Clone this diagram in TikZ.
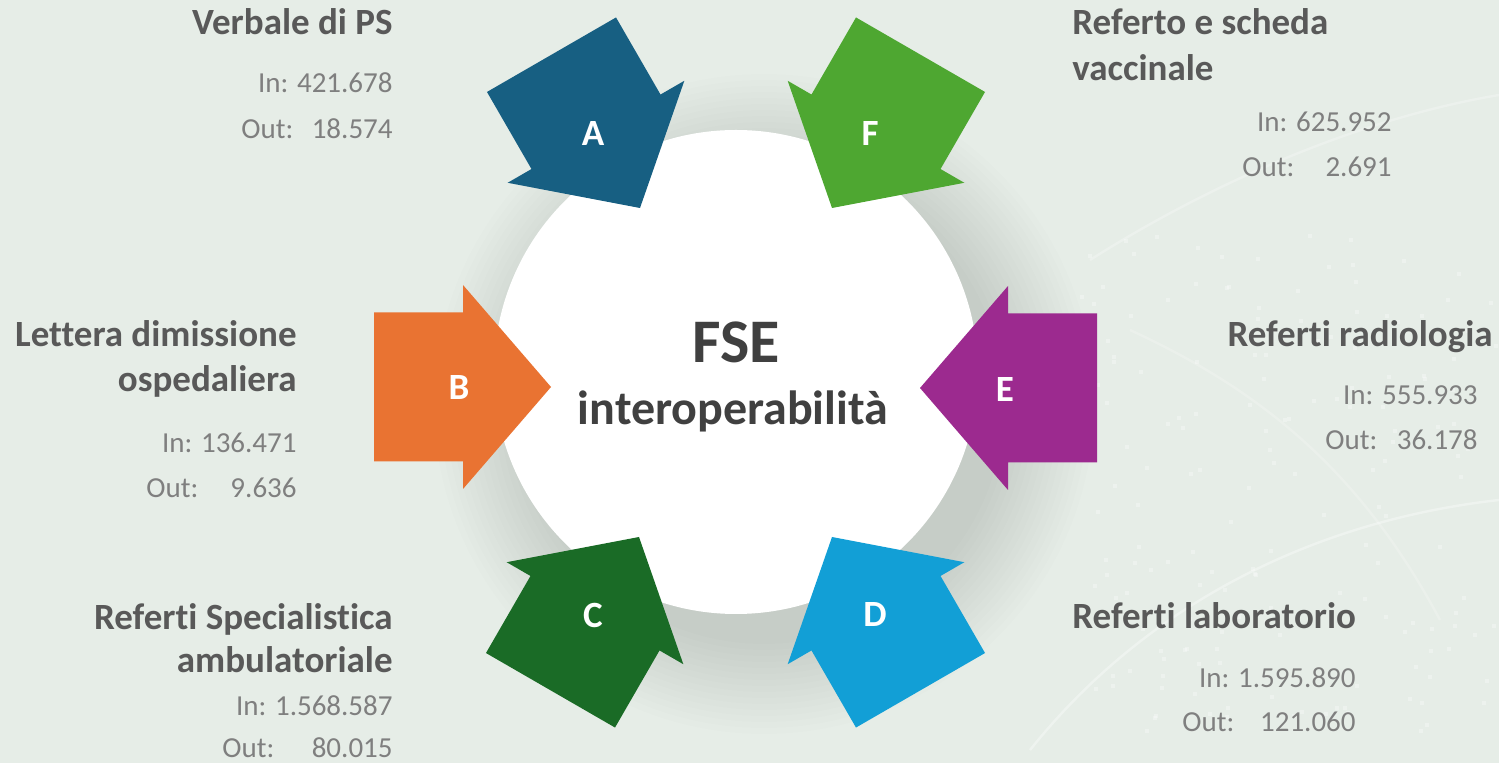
\documentclass[tikz,border=0pt]{standalone}
\usepackage{fontspec}
\setmainfont{Carlito}[Ligatures={NoCommon}]
\definecolor{bg}{HTML}{E6EDE7}
\definecolor{titlec}{HTML}{595959}
\definecolor{numc}{HTML}{7F7F7F}
\definecolor{hubtext}{HTML}{404040}
\definecolor{colA}{HTML}{175F82}
\definecolor{colB}{HTML}{E97332}
\definecolor{colC}{HTML}{1A6B26}
\definecolor{colD}{HTML}{129FD6}
\definecolor{colE}{HTML}{9C2A8F}
\definecolor{colF}{HTML}{4EA731}
\tikzset{
  bigarrow/.pic={\fill[pic actions] (0,0) -- (-88,102) -- (-88,74.5) -- (-177,74.5) -- (-177,-74.5) -- (-88,-74.5) -- (-88,-102) -- cycle;},
  letter/.style={font=\fontsize{18.5pt}{20pt}\selectfont\bfseries, text=white, inner sep=0, anchor=base},
  title/.style={font=\fontsize{18.5pt}{22.5pt}\selectfont\bfseries, text=titlec, inner sep=0},
  num/.style={font=\fontsize{14.5pt}{17pt}\selectfont, text=numc, inner sep=0},
  deco/.style={white, opacity=0.35, line width=1.2pt}
}
\begin{document}
\begin{tikzpicture}[x=0.5pt, y=-0.5pt]
\useasboundingbox (0,0) rectangle (1499,763);
\fill[bg] (0,0) rectangle (1499,763);
% faint background decoration
\draw[deco] (1030,750) .. controls (1150,600) and (1320,520) .. (1499,500);
\draw[deco, opacity=0.25] (1090,260) .. controls (1200,190) and (1350,120) .. (1499,95);
\draw[deco, opacity=0.2] (1130,330) .. controls (1260,390) and (1360,470) .. (1440,620);
\pgfmathsetseed{7}
\foreach \i in {1,...,170}{
  \pgfmathsetmacro{\dx}{1080+rnd*419}
  \pgfmathsetmacro{\dy}{230+rnd*500}
  \fill[white, opacity=0.3] (\dx,\dy) rectangle ++(4,4);
}
% soft shadow of the hub
\foreach \r in {240,246,...,330}{
  \fill[black, opacity=0.008] (764,404) circle (\r*0.5pt);
}
\node[circle, fill=white, minimum size=242pt, inner sep=0] (hub) at (736,372) {};
\node[font=\fontsize{31pt}{34pt}\selectfont\bfseries, text=hubtext, inner sep=0, anchor=base] (fse) at (736,363) {FSE};
\node[font=\fontsize{24pt}{28pt}\selectfont\bfseries, text=hubtext, inner sep=0, anchor=base] (interop) at (733,425) {interoperabilità};
% arrows
\pic[fill=colA] at (640,208) [rotate=-60] {bigarrow};
\pic[fill=colB] at (551,387) {bigarrow};
\pic[fill=colC] at (639,537) [rotate=60] {bigarrow};
\pic[fill=colD] at (832,537) [rotate=120] {bigarrow};
\pic[fill=colE] at (920,388) [rotate=180] {bigarrow};
\pic[fill=colF] at (832,208) [rotate=-120] {bigarrow};
\node[letter] (la) at (593,146) {A};
\node[letter] (lb) at (459,400) {B};
\node[letter] (lc) at (593,628) {C};
\node[letter] (ld) at (875,627) {D};
\node[letter] (le) at (1005,402) {E};
\node[letter] (lf) at (870,146) {F};
% A: Verbale di PS
\node[title, anchor=base east] (ta) at (393,35) {Verbale di PS};
\node[num, anchor=base east] (ina) at (393,93) {In: 421.678};
\node[num, anchor=base west] (outa) at (241,139) {Out:};
\node[num, anchor=base east] (nouta) at (393,139) {18.574};
% B
\node[title, anchor=base east] (tb1) at (297,347) {Lettera dimissione};
\node[title, anchor=base east] (tb2) at (297,392) {ospedaliera};
\node[num, anchor=base east] (inb) at (297,453) {In: 136.471};
\node[num, anchor=base west] (outb) at (146,498) {Out:};
\node[num, anchor=base east] (noutb) at (297,498) {9.636};
% C
\node[title, anchor=base east] (tc1) at (393,630) {Referti Specialistica};
\node[title, anchor=base east] (tc2) at (393,673) {ambulatoriale};
\node[num, anchor=base east] (inc) at (393,716) {In: 1.568.587};
\node[num, anchor=base west] (outc) at (222,758) {Out:};
\node[num, anchor=base east] (noutc) at (393,758) {80.015};
% F
\node[title, anchor=base west] (tf1) at (1072,35) {Referto e scheda};
\node[title, anchor=base west] (tf2) at (1072,81) {vaccinale};
\node[num, anchor=base east] (inf) at (1392,132) {In: 625.952};
\node[num, anchor=base west] (outf) at (1242,177) {Out:};
\node[num, anchor=base east] (noutf) at (1392,177) {2.691};
% E
\node[title, anchor=base east] (te) at (1493,347) {Referti radiologia};
\node[num, anchor=base east] (ine) at (1478,405) {In: 555.933};
\node[num, anchor=base west] (oute) at (1325,450) {Out:};
\node[num, anchor=base east] (noute) at (1478,450) {36.178};
% D
\node[title, anchor=base west] (td) at (1072,629) {Referti laboratorio};
\node[num, anchor=base east] (ind) at (1356,688) {In: 1.595.890};
\node[num, anchor=base west] (outd) at (1182,732) {Out:};
\node[num, anchor=base east] (noutd) at (1356,732) {121.060};
\end{tikzpicture}
\end{document}
